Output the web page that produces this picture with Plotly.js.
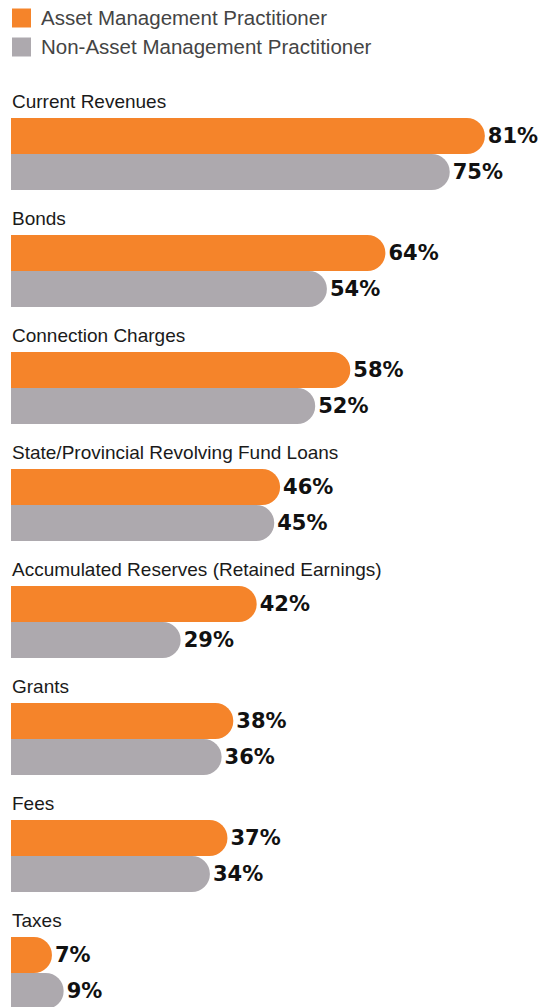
<!DOCTYPE html>
<html>
<head>
<meta charset="utf-8">
<script src="https://cdn.plot.ly/plotly-3.0.1.min.js"></script>
<style>html,body{margin:0;padding:0;background:#fff;}#chart{width:548px;height:1007px;}</style>
</head>
<body>
<div id="chart"></div>
<script>
const categories = ["Current Revenues","Bonds","Connection Charges","State/Provincial Revolving Fund Loans","Accumulated Reserves (Retained Earnings)","Grants","Fees","Taxes"];
const seriesNames = ["Asset Management Practitioner","Non-Asset Management Practitioner"];
const amValues = [81,64,58,46,42,38,37,7];
const nonAmValues = [75,54,52,45,29,36,34,9];
const colors = ["#F5842A","#ADA9AE"];

const W = 548, H = 1007;
const left = 11;
const pxPerPct = 5.85;
const step = 117;        // px per group
const firstCenter = 136; // px, center of first orange bar
const barPx = 36;
const bw = barPx / step;

const idx = categories.map((_, i) => i);
const yOrange = idx.map(i => i);
const yGrey = idx.map(i => i + bw);

const valueFont = {family: "DejaVu Sans", size: 21, color: "#111"};

const traces = [
  {type: "bar", orientation: "h", name: seriesNames[0], x: amValues, y: yOrange, width: bw,
   marker: {color: colors[0], cornerradius: "50%"},
   text: amValues.map(v => "<b>" + v + "%</b>"), textposition: "outside", cliponaxis: false,
   constraintext: "none", textfont: valueFont, hoverinfo: "skip", showlegend: false},
  {type: "bar", orientation: "h", name: seriesNames[1], x: nonAmValues, y: yGrey, width: bw,
   marker: {color: colors[1], cornerradius: "50%"},
   text: nonAmValues.map(v => "<b>" + v + "%</b>"), textposition: "outside", cliponaxis: false,
   constraintext: "none", textfont: valueFont, hoverinfo: "skip", showlegend: false}
];

const annotations = categories.map((c, i) => ({
  xref: "x", yref: "y", x: 0, y: i - 35 / step, text: c, showarrow: false,
  xanchor: "left", yanchor: "middle", xshift: -1,
  font: {family: "Liberation Sans", size: 19, color: "#1a1a1a"}
}));

const legendRows = [18, 47];
const shapes = [];
seriesNames.forEach((n, k) => {
  const cy = legendRows[k];
  shapes.push({type: "rect", xref: "paper", yref: "paper",
    x0: (12 - left) / (W - left), x1: (31 - left) / (W - left),
    y0: 1 - (cy + 9.5) / H, y1: 1 - (cy - 9.5) / H,
    fillcolor: colors[k], line: {width: 0}});
  annotations.push({xref: "paper", yref: "paper", x: (39 - left) / (W - left), y: 1 - cy / H,
    text: n, showarrow: false, xanchor: "left", yanchor: "middle",
    font: {family: "Liberation Sans", size: 20.5, color: "#444"}});
});

const yTop = (0 - firstCenter) / step;
const yBottom = (H - firstCenter) / step;

const layout = {
  width: W, height: H,
  margin: {l: left, r: 0, t: 0, b: 0, pad: 0},
  paper_bgcolor: "#fff", plot_bgcolor: "#fff",
  barmode: "overlay",
  showlegend: false,
  xaxis: {range: [0, (W - left) / pxPerPct], visible: false, fixedrange: true},
  yaxis: {range: [yBottom, yTop], visible: false, fixedrange: true},
  shapes: shapes,
  annotations: annotations
};

Plotly.newPlot("chart", traces, layout, {displayModeBar: false, staticPlot: true});
</script>
</body>
</html>
